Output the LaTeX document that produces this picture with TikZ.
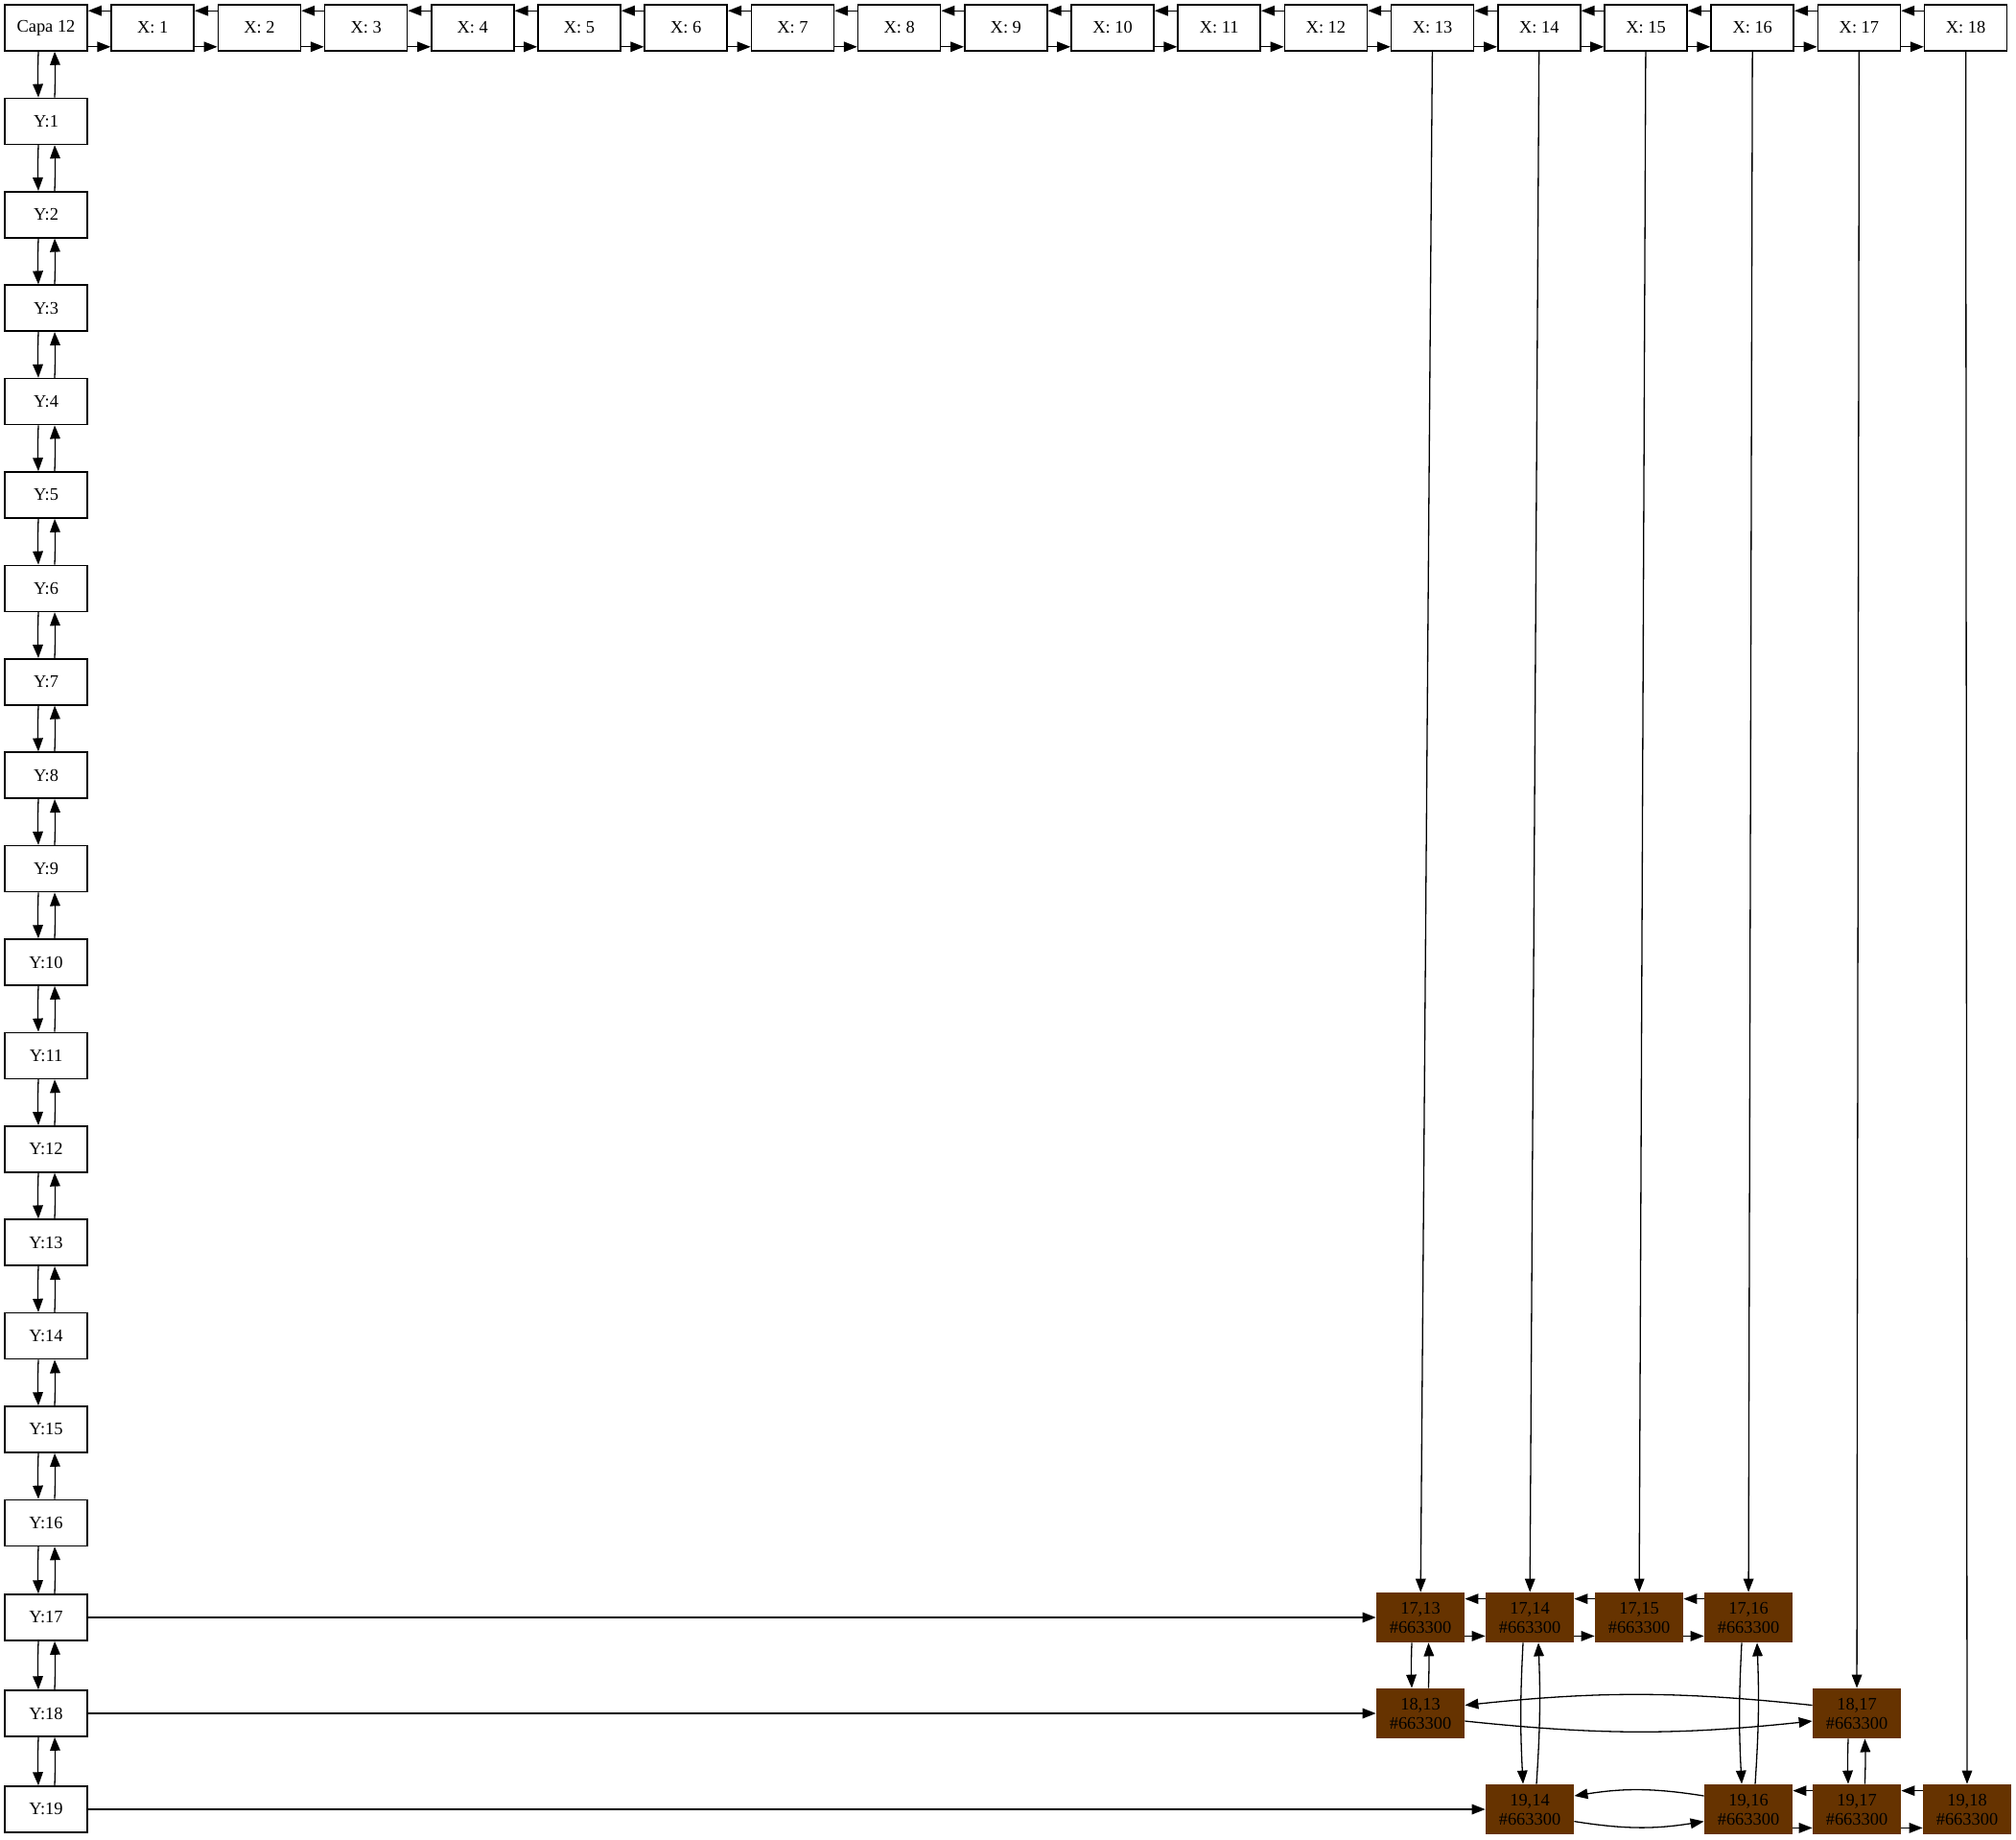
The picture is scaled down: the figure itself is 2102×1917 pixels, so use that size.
\documentclass[tikz,border=0pt]{standalone}
\usepackage{fontspec}
\setmainfont{Liberation Serif}
\usetikzlibrary{arrows.meta}
\definecolor{cellbrown}{HTML}{663300}
\tikzset{
  hdr/.style={draw, line width=0.8pt, minimum width=43pt, minimum height=24pt, inner sep=0pt, font=\fontsize{9.2}{10}\selectfont},
  cell/.style={fill=cellbrown, minimum width=46pt, minimum height=26pt, inner sep=0pt, align=center, font=\fontsize{9.2}{10}\selectfont},
  link/.style={-{Triangle[length=7pt,width=5.3pt]}, line width=0.65pt},
}
\begin{document}
\begin{tikzpicture}[x=0.5pt, y=-0.5pt]
    \useasboundingbox (0,0) rectangle (2102,1917);

    % Header row and column
    \node[hdr] (capa) at (48,29) {Capa 12};
    \foreach \i in {1,...,18}
        \node[hdr] (x\i) at ({48+111.2*\i},29) {X: \i};
    \foreach \j in {1,...,16}
        \node[hdr] (y\j) at (48,{29+97.4*\j}) {Y:\j};
    \foreach \j in {17,18,19}
        \node[hdr] (y\j) at (48,{1686+100*(\j-17)}) {Y:\j};

    % Coloured cells
    \foreach \r/\c/\x in {17/13/1481, 17/14/1595, 17/15/1709, 17/16/1823,
                          18/13/1481, 18/17/1936,
                          19/14/1595, 19/16/1823, 19/17/1936, 19/18/2051}
        \node[cell] (c\r-\c) at (\x,{1686+100*(\r-17)}) {\r,\c\\\#663300};

    % Links along the header row
    \draw[link] ([yshift=-3.5pt]x1.north west) -- ([yshift=-3.5pt]capa.north east);
    \draw[link] ([yshift=2.5pt]capa.south east) -- ([yshift=2.5pt]x1.south west);
    \foreach \i [count=\k from 2] in {1,...,17} {
        \draw[link] ([yshift=-3.5pt]x\k.north west) -- ([yshift=-3.5pt]x\i.north east);
        \draw[link] ([yshift=2.5pt]x\i.south east) -- ([yshift=2.5pt]x\k.south west);
    }

    % Links down the header column
    \draw[link] ([xshift=-4pt]capa.south) to[bend right=2] ([xshift=-4pt]y1.north);
    \draw[link] ([xshift=4.5pt]y1.north) to[bend right=2] ([xshift=4.5pt]capa.south);
    \foreach \j [count=\k from 2] in {1,...,18} {
        \draw[link] ([xshift=-4pt]y\j.south) to[bend right=2] ([xshift=-4pt]y\k.north);
        \draw[link] ([xshift=4.5pt]y\k.north) to[bend right=2] ([xshift=4.5pt]y\j.south);
    }

    % Rows and columns into the cells
    \draw[link] (y17) -- (c17-13);
    \draw[link] (y18) -- (c18-13);
    \draw[link] (y19) -- (c19-14);
    \draw[link] (x13) -- (c17-13);
    \draw[link] (x14) -- (c17-14);
    \draw[link] (x15) -- (c17-15);
    \draw[link] (x16) -- (c17-16);
    \draw[link] (x17) -- (c18-17);
    \draw[link] (x18) -- (c19-18);

    % Neighbouring cells
    \foreach \a/\b in {17-13/17-14, 17-14/17-15, 17-15/17-16, 19-16/19-17, 19-17/19-18} {
        \draw[link] ([yshift=-3.5pt]c\b.north west) -- ([yshift=-3.5pt]c\a.north east);
        \draw[link] ([yshift=3.5pt]c\a.south east) -- ([yshift=3.5pt]c\b.south west);
    }
    \foreach \a/\b in {17-13/18-13, 18-17/19-17} {
        \draw[link] ([xshift=-4.5pt]c\a.south) to[bend right=2] ([xshift=-4.5pt]c\b.north);
        \draw[link] ([xshift=4.2pt]c\b.north) to[bend right=2] ([xshift=4.2pt]c\a.south);
    }
    \foreach \a/\b in {17-14/19-14, 17-16/19-16} {
        \draw[link] ([xshift=-3.5pt]c\a.south) to[bend right=3] ([xshift=-3.5pt]c\b.north);
        \draw[link] ([xshift=3.5pt]c\b.north) to[bend right=3] ([xshift=4.5pt]c\a.south);
    }
    \draw[link] ([yshift=4.25pt]c18-17.west) to[bend right=6] ([yshift=4.25pt]c18-13.east);
    \draw[link] ([yshift=-4pt]c18-13.east) to[bend right=6] ([yshift=-4pt]c18-17.west);
    \draw[link] ([yshift=7pt]c19-16.west) to[bend right=9] ([yshift=7pt]c19-14.east);
    \draw[link] ([yshift=-6.3pt]c19-14.east) to[bend right=9] ([yshift=-6.3pt]c19-16.west);
\end{tikzpicture}
\end{document}
